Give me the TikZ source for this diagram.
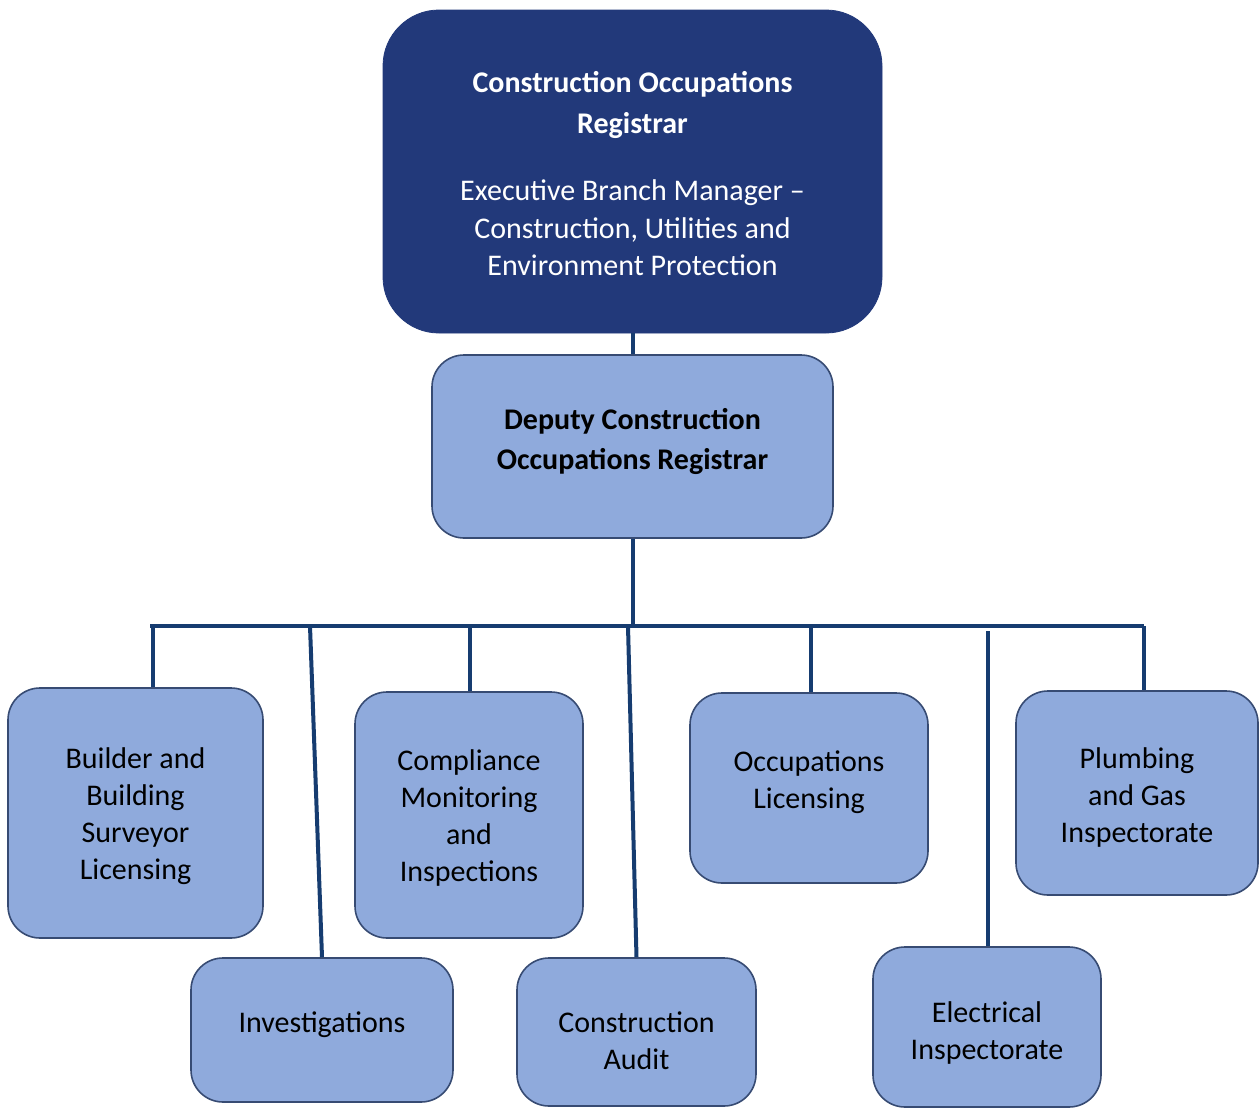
\documentclass[tikz,border=0pt]{standalone}
\usepackage{fontspec}
\setmainfont{Carlito}
\definecolor{navyfill}{RGB}{34,57,122}
\definecolor{lightfill}{RGB}{143,170,220}
\definecolor{boxline}{RGB}{55,75,115}
\definecolor{conn}{RGB}{22,60,112}
\newcommand{\stk}[1]{\begin{tabular}{@{}c@{}}#1\end{tabular}}
\tikzset{
  topbox/.style={draw=navyfill, fill=navyfill, rounded corners=28pt, inner sep=0pt},
  subbox/.style={draw=boxline, fill=lightfill, line width=0.8pt, rounded corners=16pt, inner sep=0pt},
  toptext/.style={text=white, align=center, inner sep=0pt, font=\fontsize{15}{18.75}\selectfont},
  subtext/.style={text=black, align=center, inner sep=0pt, font=\fontsize{15}{18.5}\selectfont},
  link/.style={draw=conn, line width=2pt}
}
\begin{document}
\begin{tikzpicture}[x=0.5pt,y=-0.5pt]
\useasboundingbox[fill=white] (0,0) rectangle (1259,1108);
% boxes
\node[topbox, minimum width=249.5pt, minimum height=161.5pt] (top) at (632.5,171.5) {};
\node[subbox, minimum width=200.5pt, minimum height=91.5pt] (dep) at (632.5,446.5) {};
\node[subbox, minimum width=127.5pt, minimum height=125pt] (bld) at (135.5,813) {};
\node[subbox, minimum width=131pt, minimum height=72pt] (inv) at (322,1030) {};
\node[subbox, minimum width=114pt, minimum height=123pt] (cmp) at (469,815) {};
\node[subbox, minimum width=119.5pt, minimum height=74pt] (aud) at (636.5,1032) {};
\node[subbox, minimum width=119pt, minimum height=95pt] (occ) at (809,788) {};
\node[subbox, minimum width=114pt, minimum height=80pt] (ele) at (987,1027) {};
\node[subbox, minimum width=121pt, minimum height=102pt] (plg) at (1137,793) {};
% texts
\node[toptext] (topT) at (632.5,176.5)
  {\stk{\textbf{Construction Occupations}\\[1.75pt] \textbf{Registrar}\\[14.75pt]
   Executive Branch Manager --\\ Construction, Utilities and\\ Environment Protection}};
\node[subtext] (depT) at (632.5,442.5)
  {\stk{\textbf{Deputy Construction}\\[1.5pt]\textbf{Occupations Registrar}}};
\node[subtext] (bldT) at (135.5,817) {\stk{Builder and\\ Building\\ Surveyor\\ Licensing}};
\node[subtext] (invT) at (322,1025) {\stk{Investigations}};
\node[subtext] (cmpT) at (469,818.5) {\stk{Compliance\\ Monitoring\\ and\\ Inspections}};
\node[subtext] (audT) at (636.5,1043.5) {\stk{Construction\\ Audit}};
\node[subtext] (occT) at (809,782.5) {\stk{Occupations\\ Licensing}};
\node[subtext] (eleT) at (987,1033.5) {\stk{Electrical\\ Inspectorate}};
\node[subtext] (plgT) at (1137,798) {\stk{Plumbing\\ and Gas\\ Inspectorate}};
% connectors
\coordinate (busL) at (150,626);
\coordinate (busR) at (1144,626);
\coordinate (d1) at (153,626);
\coordinate (d2) at (310,626);
\coordinate (d3) at (470,626);
\coordinate (d4) at (628,626);
\coordinate (d5) at (811,626);
\coordinate (d6) at (988,631);
\coordinate (d7) at (1144,626);
\draw[link] (top.south) -- (dep.north);
\draw[link] (dep.south) -- (dep.south |- busL);
\draw[link] (busL) -- (busR);
\draw[link] (d1) -- (d1 |- bld.north);
\draw[link] (d2) -- (inv.north);
\draw[link] (d3) -- (d3 |- cmp.north);
\draw[link] (d4) -- (aud.north);
\draw[link] (d5) -- (d5 |- occ.north);
\draw[link] (d6) -- (d6 |- ele.north);
\draw[link] (d7) -- (d7 |- plg.north);
\end{tikzpicture}
\end{document}
